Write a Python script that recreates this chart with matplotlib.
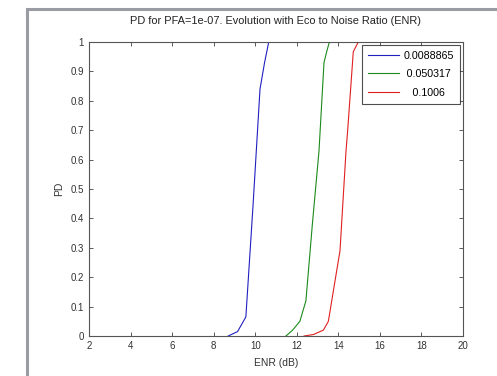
import matplotlib
matplotlib.use("Agg")
import matplotlib.pyplot as plt
from matplotlib.patches import Rectangle

plt.rcParams['font.family'] = ['Liberation Sans', 'DejaVu Sans']

labels = ['0.0088865', '0.050317', '0.1006']
colors = ['#2020c0', '#1a8a1a', '#e02020']

enr_blue = [8.7, 9.15, 9.55, 9.9, 10.23, 10.45, 10.65]
pd_blue = [0.0, 0.015, 0.065, 0.45, 0.84, 0.93, 1.0]

enr_green = [11.48, 11.8, 12.15, 12.44, 12.75, 13.07, 13.31, 13.45, 13.57]
pd_green = [0.0, 0.02, 0.05, 0.12, 0.38, 0.63, 0.93, 0.97, 1.0]

enr_red = [12.35, 12.8, 13.28, 13.52, 14.08, 14.37, 14.45, 14.72, 14.96]
pd_red = [0.0, 0.005, 0.02, 0.05, 0.29, 0.63, 0.70, 0.967, 1.0]

xticks = [2, 4, 6, 8, 10, 12, 14, 16, 18, 20]
yticks = [0, 0.1, 0.2, 0.3, 0.4, 0.5, 0.6, 0.7, 0.8, 0.9, 1]
yticklabels = ['0', '0.1', '0.2', '0.3', '0.4', '0.5', '0.6', '0.7', '0.8', '0.9', '1']

fig = plt.figure(figsize=(4.97, 3.76), dpi=100)
W, H = 497, 376
fig.patches.append(Rectangle((27 / W, -0.1), 1.2, (H - 9) / H + 0.1,
                             transform=fig.transFigure, fill=False,
                             edgecolor='#9a9ca4', linewidth=2.2))

ax = fig.add_axes([89 / W, 40 / H, (463 - 89) / W, (336 - 42) / H])

# centre the legend labels like MATLAB does (pad on the left with spaces)
maxdig = max(sum(ch.isdigit() for ch in l) for l in labels)
pads = {0: '', 1: '\u2005', 2: '\u2007', 3: '\u2007\u2005', 4: '\u2007\u2007'}
shown = [pads[maxdig - sum(ch.isdigit() for ch in l)] + l for l in labels]

for xs, ys, c, lab in zip([enr_blue, enr_green, enr_red],
                          [pd_blue, pd_green, pd_red], colors, shown):
    ax.plot(xs, ys, color=c, linewidth=0.8, label=lab)

ax.set_xlim(2, 20)
ax.set_ylim(0, 1)
ax.set_xticks(xticks)
ax.set_yticks(yticks)
ax.set_yticklabels(yticklabels)
ax.tick_params(direction='in', top=True, right=True, labelsize=7,
               length=3, width=0.6, colors='#404040', labelcolor='#333333')
for s in ax.spines.values():
    s.set_color('#555555')
    s.set_linewidth(0.8)

ax.set_title('PD for PFA=1e-07. Evolution with Eco to Noise Ratio (ENR)',
             fontsize=7.9, color='#222222', pad=13)
ax.set_xlabel('ENR (dB)', fontsize=7.5, color='#333333', labelpad=5)
ax.set_ylabel('PD', fontsize=7.5, color='#333333', labelpad=5)

leg = ax.legend(loc='upper right', fontsize=7.7, frameon=True, fancybox=False,
                edgecolor='#222222', handlelength=2.9, handletextpad=0.45,
                borderaxespad=0.25, labelspacing=0.8, borderpad=0.55)
leg.get_frame().set_linewidth(0.8)

fig.savefig('out.png', dpi=100)
